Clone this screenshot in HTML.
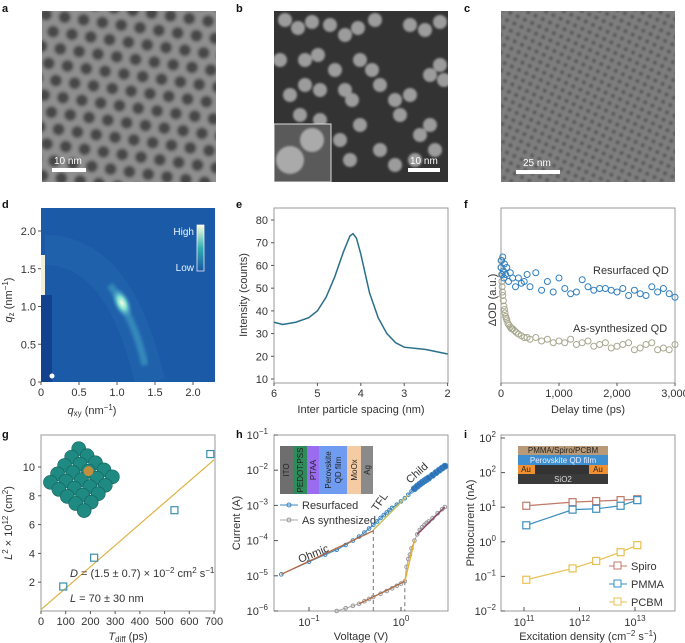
<!DOCTYPE html>
<html><head><meta charset="utf-8"><style>
body{margin:0;background:#fff}
svg{display:block;font-family:"Liberation Sans",sans-serif}
.t{font-size:11px;fill:#333}
.pl{font-size:11px;font-weight:bold;fill:#111}
</style></head><body>
<svg id="fig" width="685" height="643" viewBox="0 0 685 643" xmlns="http://www.w3.org/2000/svg">
<defs>
<filter id="blur1"><feGaussianBlur stdDeviation="1.6"/></filter>
<filter id="blur2"><feGaussianBlur stdDeviation="1"/></filter>
<clipPath id="ca"><rect x="42" y="11" width="174" height="171"/></clipPath>
<clipPath id="cb"><rect x="274" y="11" width="174" height="171"/></clipPath>
<clipPath id="cc"><rect x="501" y="11" width="174" height="171"/></clipPath>
<clipPath id="cd"><rect x="41" y="208" width="174" height="174"/></clipPath>
<pattern id="pa" width="19" height="32" patternUnits="userSpaceOnUse" patternTransform="rotate(8)">
<rect width="19" height="32" fill="#8f8f8f"/><circle cx="9.5" cy="8" r="6" fill="#474747"/><circle cx="0" cy="24" r="6" fill="#474747"/><circle cx="19" cy="24" r="6" fill="#474747"/></pattern>
<pattern id="pc" width="8" height="8" patternUnits="userSpaceOnUse" patternTransform="rotate(25)">
<rect width="8" height="8" fill="#7e7e7e"/><circle cx="4" cy="4" r="2" fill="#555"/></pattern>
<radialGradient id="spot" cx="0.5" cy="0.5" r="0.5"><stop offset="0" stop-color="#fffbe0"/><stop offset="0.4" stop-color="#7fe0d0"/><stop offset="1" stop-color="#2a7cc0" stop-opacity="0"/></radialGradient>
<linearGradient id="cbar" x1="0" y1="0" x2="0" y2="1"><stop offset="0" stop-color="#fffbe0"/><stop offset="0.5" stop-color="#30b0b0"/><stop offset="1" stop-color="#1a55a5"/></linearGradient>
</defs>

<!-- Top TEM panels -->
<text class="pl" x="2" y="12">a</text>
<g clip-path="url(#ca)">
<rect x="42" y="11" width="174" height="171" fill="#8f8f8f"/>
<rect x="36" y="5" width="186" height="183" fill="url(#pa)" filter="url(#blur1)"/>
</g>
<rect x="52" y="168" width="34" height="4" fill="#fff"/>
<text x="54" y="164" style="font-size:10px;fill:#fff">10 nm</text>

<text class="pl" x="236" y="12">b</text>
<g clip-path="url(#cb)">
<rect x="274" y="11" width="174" height="171" fill="#333"/>
<g fill="#9c9c9c" id="blobs" filter="url(#blur2)"></g>
<rect x="274" y="124" width="57" height="58" fill="#5a5a5a" stroke="#ddd" stroke-width="1"/>
<circle cx="290" cy="160" r="14" fill="#aaa" filter="url(#blur2)"/><circle cx="312" cy="140" r="12" fill="#aaa" filter="url(#blur2)"/>
</g>
<rect x="408" y="168" width="32" height="4" fill="#fff"/>
<text x="410" y="164" style="font-size:10px;fill:#fff">10 nm</text>

<text class="pl" x="464" y="12">c</text>
<g clip-path="url(#cc)">
<rect x="501" y="11" width="174" height="171" fill="#6e6e6e"/>
<rect x="495" y="5" width="186" height="183" fill="url(#pc)" filter="url(#blur2)"/>
</g>
<rect x="516" y="170" width="44" height="4" fill="#fff"/>
<text x="523" y="166" style="font-size:10px;fill:#fff">25 nm</text>

<!-- d -->
<text class="pl" x="2" y="208">d</text>
<g clip-path="url(#cd)">
<rect x="41" y="208" width="174" height="174" fill="#1b5aa6"/>
<path d="M45 250 Q120 250 150 382" stroke="#2a70b8" stroke-width="30" fill="none" opacity="0.35"/>
<path d="M110 285 Q135 320 145 365" stroke="#48b0c8" stroke-width="7" fill="none" opacity="0.5" filter="url(#blur1)"/>
<ellipse cx="122" cy="303" rx="9" ry="17" transform="rotate(-25 122 303)" fill="url(#spot)"/>
<rect x="41" y="295" width="11" height="87" fill="#12418e"/>
<rect x="41" y="255" width="4" height="40" fill="#f4f0d8"/>
<circle cx="52" cy="376" r="2.5" fill="#fff"/>
<rect x="197" y="225" width="7" height="46" fill="url(#cbar)" stroke="#fff" stroke-width="0.7"/>
<text x="194" y="235" text-anchor="end" style="font-size:10px;fill:#e8f4ff">High</text>
<text x="194" y="271" text-anchor="end" style="font-size:10px;fill:#e8f4ff">Low</text>
</g>
<g id="dax"></g>
<text x="92" y="414" text-anchor="middle" class="t"><tspan font-style="italic">q</tspan><tspan font-size="8" dy="2">xy</tspan><tspan dy="-2"> (nm</tspan><tspan font-size="8" dy="-4">−1</tspan><tspan dy="4">)</tspan></text>
<text transform="translate(12 300) rotate(-90)" text-anchor="middle" class="t"><tspan font-style="italic">q</tspan><tspan font-size="8" dy="2">z</tspan><tspan dy="-2"> (nm</tspan><tspan font-size="8" dy="-4">−1</tspan><tspan dy="4">)</tspan></text>

<!-- e -->
<text class="pl" x="236" y="208">e</text>
<rect x="274" y="208" width="174" height="175" fill="none" stroke="#999"/>
<g id="eax"></g>
<text x="361" y="413" text-anchor="middle" class="t">Inter particle spacing (nm)</text>
<text transform="translate(247 295) rotate(-90)" text-anchor="middle" class="t">Intensity (counts)</text>

<!-- f -->
<text class="pl" x="464" y="208">f</text>
<rect x="501" y="208" width="174" height="175" fill="none" stroke="#999"/>
<g id="fax"></g>
<text x="588" y="413" text-anchor="middle" class="t">Delay time (ps)</text>
<text transform="translate(496 300) rotate(-90)" text-anchor="middle" class="t">ΔOD (a.u.)</text>
<text x="593" y="274" class="t">Resurfaced QD</text>
<text x="573" y="332" class="t">As-synthesized QD</text>

<!-- g -->
<text class="pl" x="2" y="438">g</text>
<rect x="41" y="435" width="174" height="176" fill="none" stroke="#999"/>
<g id="lattice" transform="rotate(40 85 480)"></g>
<g id="gax"></g>
<text x="70" y="577" class="t"><tspan font-style="italic">D</tspan> = (1.5 ± 0.7) × 10<tspan font-size="8" dy="-4">−2</tspan><tspan dy="4"> cm</tspan><tspan font-size="8" dy="-4">2</tspan><tspan dy="4"> s</tspan><tspan font-size="8" dy="-4">−1</tspan></text>
<text x="70" y="602" class="t"><tspan font-style="italic">L</tspan> = 70 ± 30 nm</text>
<text x="128" y="640" text-anchor="middle" class="t"><tspan font-style="italic">T</tspan><tspan font-size="8" dy="2">diff</tspan><tspan dy="-2"> (ps)</tspan></text>
<text transform="translate(12 523) rotate(-90)" text-anchor="middle" class="t"><tspan font-style="italic">L</tspan><tspan font-size="8" dy="-4">2</tspan><tspan dy="4"> × 10</tspan><tspan font-size="8" dy="-4">12</tspan><tspan dy="4"> (cm</tspan><tspan font-size="8" dy="-4">2</tspan><tspan dy="4">)</tspan></text>

<!-- h -->
<text class="pl" x="236" y="438">h</text>
<rect x="274" y="435" width="174" height="176" fill="none" stroke="#999"/>
<g style="font-size:8px;fill:#222">
<rect x="280" y="446" width="13" height="48" fill="#6e6e6e"/>
<rect x="293" y="446" width="14" height="48" fill="#2e8b5a"/>
<rect x="307" y="446" width="12" height="48" fill="#9a6cf0"/>
<rect x="319" y="446" width="28" height="48" fill="#6f9cf0"/>
<rect x="347" y="446" width="14" height="48" fill="#f5cba3"/>
<rect x="361" y="446" width="12" height="48" fill="#8a8a8a"/>
<text transform="translate(289 470) rotate(-90)" text-anchor="middle">ITO</text>
<text transform="translate(303 470) rotate(-90)" text-anchor="middle">PEDOT:PSS</text>
<text transform="translate(316 470) rotate(-90)" text-anchor="middle">PTAA</text>
<text transform="translate(331 470) rotate(-90)" text-anchor="middle">Perovskite</text>
<text transform="translate(341 470) rotate(-90)" text-anchor="middle">QD film</text>
<text transform="translate(357 470) rotate(-90)" text-anchor="middle">MoOx</text>
<text transform="translate(370 470) rotate(-90)" text-anchor="middle">Ag</text>
</g>
<g>
<line x1="280" y1="505" x2="298" y2="505" stroke="#3a85c0"/><circle cx="289" cy="505" r="2" fill="none" stroke="#3a85c0"/>
<text x="302" y="509" class="t">Resurfaced</text>
<line x1="280" y1="520" x2="298" y2="520" stroke="#aaa"/><circle cx="289" cy="520" r="2" fill="none" stroke="#999"/>
<text x="302" y="524" class="t">As synthesized</text>
</g>
<g id="hax"></g>
<text transform="translate(300 563) rotate(-22)" class="t">Ohmic</text>
<text transform="translate(377 512) rotate(-55)" class="t">TFL</text>
<text transform="translate(410 484) rotate(-42)" class="t">Child</text>
<text x="361" y="640" text-anchor="middle" class="t">Voltage (V)</text>
<text transform="translate(240 523) rotate(-90)" text-anchor="middle" class="t">Current (A)</text>

<!-- i -->
<text class="pl" x="464" y="438">i</text>
<rect x="501" y="435" width="174" height="176" fill="none" stroke="#999"/>
<g style="font-size:8px">
<rect x="518" y="446" width="90" height="9" fill="#b89a78"/>
<rect x="518" y="455" width="90" height="10" fill="#3d8fd0"/>
<rect x="518" y="465" width="90" height="9" fill="#333"/>
<rect x="518" y="465" width="17" height="9" fill="#f09030"/>
<rect x="589" y="465" width="19" height="9" fill="#f09030"/>
<rect x="518" y="474" width="90" height="10" fill="#3a3a3a"/>
<text x="563" y="453" text-anchor="middle" fill="#222">PMMA/Spiro/PCBM</text>
<text x="563" y="463" text-anchor="middle" fill="#eef">Perovskite QD film</text>
<text x="526" y="472" text-anchor="middle" fill="#222">Au</text>
<text x="598" y="472" text-anchor="middle" fill="#222">Au</text>
<text x="563" y="482" text-anchor="middle" fill="#ddd">SiO2</text>
</g>
<g id="iax"></g>
<text x="588" y="640" text-anchor="middle" class="t">Excitation density (cm<tspan font-size="8" dy="-4">−2</tspan><tspan dy="4"> s</tspan><tspan font-size="8" dy="-4">−1</tspan><tspan dy="4">)</tspan></text>
<text transform="translate(474 523) rotate(-90)" text-anchor="middle" class="t">Photocurrent (nA)</text>
<g>
<line x1="609" y1="566" x2="627" y2="566" stroke="#c07868"/><rect x="614" y="562" width="7" height="7" fill="#fff" stroke="#c07868"/><text x="631" y="570" class="t">Spiro</text>
<line x1="609" y1="584" x2="627" y2="584" stroke="#3a8fc0"/><rect x="614" y="580" width="7" height="7" fill="#fff" stroke="#3a8fc0"/><text x="631" y="588" class="t">PMMA</text>
<line x1="609" y1="602" x2="627" y2="602" stroke="#e8c050"/><rect x="614" y="598" width="7" height="7" fill="#fff" stroke="#e8c050"/><text x="631" y="606" class="t">PCBM</text>
</g>
</svg>
<script>
// ---- data ----
const eSpacing=[6,5.8,5.5,5.2,5,4.8,4.6,4.4,4.25,4.18,4.1,4.0,3.8,3.6,3.4,3.2,3,2.5,2];
const eIntensity=[35,34,35,37,40,46,55,66,73,74,72,65,48,37,30,26,24,23,21];
const fResT=[0,10,20,30,40,50,60,80,100,130,160,200,250,300,350,400,450,500,600,700,800,900,1000,1100,1200,1300,1400,1500,1600,1700,1800,1900,2000,2100,2200,2300,2400,2500,2600,2700,2800,2900,3000];
const fResV=[0.66,0.70,0.62,0.72,0.64,0.60,0.68,0.62,0.66,0.58,0.63,0.60,0.55,0.60,0.57,0.58,0.62,0.55,0.63,0.53,0.58,0.52,0.60,0.54,0.51,0.52,0.59,0.55,0.53,0.54,0.54,0.53,0.52,0.54,0.50,0.53,0.51,0.50,0.55,0.52,0.54,0.51,0.49];
const fAsT=[0,5,10,15,20,25,30,40,50,60,70,80,90,100,120,140,160,180,200,230,260,300,350,400,450,500,600,700,800,900,1000,1100,1200,1300,1400,1500,1600,1700,1800,1900,2000,2100,2200,2300,2400,2500,2600,2700,2800,2900,3000];
const fAsV=[0.70,0.66,0.62,0.58,0.55,0.52,0.50,0.47,0.44,0.42,0.40,0.38,0.37,0.36,0.34,0.33,0.32,0.31,0.31,0.30,0.29,0.28,0.27,0.26,0.26,0.25,0.26,0.24,0.25,0.23,0.24,0.23,0.25,0.22,0.23,0.24,0.21,0.22,0.23,0.20,0.21,0.22,0.23,0.19,0.20,0.22,0.23,0.19,0.20,0.19,0.22];
const gT=[90,215,540,685];
const gL2=[1.7,3.7,7.0,10.9];
const gFitT=[0,700];
const gFitL2=[0.1,10.5];
const hResV=[0.05,0.1,0.15,0.2,0.25,0.3,0.35,0.4,0.45,0.5,0.55,0.6,0.65,0.7,0.75,0.8,0.9,1.0,1.1,1.2,1.3,1.4,1.5,1.6,1.7,1.8,1.9,2.0,2.2,2.4,2.6,2.8,3.0];
const hResI=[1.1e-5,2.5e-5,4e-5,5.5e-5,7.5e-5,1e-4,1.3e-4,1.7e-4,2.2e-4,2.8e-4,3.5e-4,4.4e-4,5.3e-4,6.3e-4,7.4e-4,8.5e-4,1.05e-3,1.3e-3,1.6e-3,2.0e-3,2.5e-3,3.0e-3,3.5e-3,4.0e-3,4.5e-3,5.0e-3,5.5e-3,6.0e-3,7.2e-3,8.5e-3,1.0e-2,1.15e-2,1.3e-2];
const hAsV=[0.2,0.25,0.3,0.35,0.4,0.45,0.5,0.6,0.7,0.8,0.9,1.0,1.1,1.15,1.2,1.25,1.3,1.4,1.5,1.6,1.7,1.8,1.9,2.0,2.2,2.5,2.8,3.0];
const hAsI=[1e-6,1.2e-6,1.4e-6,1.6e-6,1.9e-6,2.2e-6,2.5e-6,3.1e-6,3.7e-6,4.4e-6,5.2e-6,6e-6,7e-6,1.8e-5,3e-5,4e-5,6e-5,1e-4,1.5e-4,2e-4,2.4e-4,2.8e-4,3.2e-4,3.5e-4,4.3e-4,6e-4,7.8e-4,9e-4];
const iX=[1.1e11,7.5e11,2e12,5.5e12,1.1e13];
const iSpiro=[11,14,15,16,17];
const iPMMA=[3,8.5,9,11,16];
const iPCBM=[0.08,0.17,0.28,0.5,0.8];
const dTicks=[0,0.5,1.0,1.5,2.0];
const eXTicks=[6,5,4,3,2];
const eYTicks=[10,20,30,40,50,60,70,80];
const fXTicks=[0,1000,2000,3000];
const fXLabels=['0','1,000','2,000','3,000'];
const gXTicks=[0,100,200,300,400,500,600,700];
const gYTicks=[2,4,6,8,10];
const hYExp=[-1,-2,-3,-4,-5,-6];
const hXExp=[-1,0];
const iYExp=[3,2,1,0,-1,-2];
const iYLabels=['2','2','1','0','−1','−2'];
const iXExp=[11,12,13];

const NS='http://www.w3.org/2000/svg';
function mk(parent,tag,attrs,name,txt){const e=document.createElementNS(NS,tag);for(const k in attrs)e.setAttribute(k,attrs[k]);


if(txt!==undefined)e.textContent=txt;parent.appendChild(e);return e;}
function g(id){return document.getElementById(id);}
function pow(parent,x,y,exp,anchor){const t=mk(parent,'text',{x:x,y:y,'text-anchor':anchor||'end',class:'t'},'tick-label');t.textContent='10';const s=document.createElementNS(NS,'tspan');s.setAttribute('font-size','8');s.setAttribute('dy','-5');s.textContent=exp;t.appendChild(s);}

// blobs for b (decorative texture)
const blobs=[[285,20],[298,28],[312,22],[330,25],[345,35],[358,28],[375,20],[410,25],[425,30],[440,22],[440,65],[430,75],[444,80],[290,95],[305,85],[320,90],[335,70],[345,90],[352,100],[380,85],[395,100],[410,95],[400,115],[420,135],[430,125],[360,125],[340,140],[350,160],[380,150],[395,165],[415,160],[435,150],[300,115],[320,120],[305,60],[318,55],[280,60],[360,60],[372,70]];
blobs.forEach(p=>mk(g('blobs'),'circle',{cx:p[0],cy:p[1],r:7},'nanocrystal-blob'));

// lattice inset g
for(let r=0;r<5;r++)for(let c=0;c<5;c++)mk(g('lattice'),'circle',{cx:60+c*11,cy:460+r*11,r:7,fill:'#1f8a82',stroke:'#0f5a55','stroke-width':0.5},'lattice-atom');
mk(g('lattice'),'circle',{cx:82,cy:471,r:5,fill:'#c09040'},'exciton-site');

// d axes
const dx=q=>41+76*q, dy=q=>382-75.5*q;
dTicks.forEach(v=>{mk(g('dax'),'line',{x1:dx(v),x2:dx(v),y1:382,y2:385,stroke:'#555'},'d-x-tick');mk(g('dax'),'text',{x:dx(v),y:396,'text-anchor':'middle',class:'t'},'d-x-tick-label',v===0?'0':v.toFixed(1));
mk(g('dax'),'line',{x1:38,x2:41,y1:dy(v),y2:dy(v),stroke:'#555'},'d-y-tick');mk(g('dax'),'text',{x:36,y:dy(v)+4,'text-anchor':'end',class:'t'},'d-y-tick-label',v===0?'0':v.toFixed(1));});

// e
const ex=s=>274+(6-s)*43.4, ey=v=>379-(v-10)*2.271;
eXTicks.forEach(v=>{mk(g('eax'),'line',{x1:ex(v),x2:ex(v),y1:383,y2:386,stroke:'#555'},'e-x-tick');mk(g('eax'),'text',{x:ex(v),y:397,'text-anchor':'middle',class:'t'},'e-x-tick-label',String(v));});
eYTicks.forEach(v=>{mk(g('eax'),'line',{x1:271,x2:274,y1:ey(v),y2:ey(v),stroke:'#555'},'e-y-tick');mk(g('eax'),'text',{x:268,y:ey(v)+4,'text-anchor':'end',class:'t'},'e-y-tick-label',String(v));});
mk(g('eax'),'polyline',{points:eSpacing.map((s,i)=>ex(s)+','+ey(eIntensity[i])).join(' '),fill:'none',stroke:'#2a6f8a','stroke-width':1.5},'e-intensity-curve');

// f
const fx=t=>501+t*0.058, fy=v=>383-v*175;
fXTicks.forEach((v,i)=>{mk(g('fax'),'line',{x1:fx(v),x2:fx(v),y1:383,y2:386,stroke:'#555'},'f-x-tick');mk(g('fax'),'text',{x:fx(v),y:397,'text-anchor':'middle',class:'t'},'f-x-tick-label',fXLabels[i]);});
fAsT.forEach((t,i)=>mk(g('fax'),'circle',{cx:fx(t),cy:fy(fAsV[i]),r:3,fill:'none',stroke:'#a8a890','stroke-width':1},'f-as-synthesized-point'));
fResT.forEach((t,i)=>mk(g('fax'),'circle',{cx:fx(t),cy:fy(fResV[i]),r:3,fill:'none',stroke:'#2f7fc0','stroke-width':1},'f-resurfaced-point'));

// g
const gx=t=>41+t*173/700, gy=v=>611-v*14.4;
gXTicks.forEach(v=>{mk(g('gax'),'line',{x1:gx(v),x2:gx(v),y1:611,y2:614,stroke:'#555'},'g-x-tick');mk(g('gax'),'text',{x:gx(v),y:625,'text-anchor':'middle',class:'t'},'g-x-tick-label',String(v));});
gYTicks.forEach(v=>{mk(g('gax'),'line',{x1:38,x2:41,y1:gy(v),y2:gy(v),stroke:'#555'},'g-y-tick');mk(g('gax'),'text',{x:35,y:gy(v)+4,'text-anchor':'end',class:'t'},'g-y-tick-label',String(v));});
mk(g('gax'),'line',{x1:gx(gFitT[0]),y1:gy(gFitL2[0]),x2:gx(gFitT[1]),y2:gy(gFitL2[1]),stroke:'#e0b040','stroke-width':1.2},'g-fit-line');
gT.forEach((t,i)=>mk(g('gax'),'rect',{x:gx(t)-3.5,y:gy(gL2[i])-3.5,width:7,height:7,fill:'none',stroke:'#3a8fb0','stroke-width':1.2},'g-data-point'));

// h
const hx=v=>401+92*Math.log10(v), hy=v=>435+(-1-Math.log10(v))*35.2;
hYExp.forEach(e=>{const y=hy(Math.pow(10,e));mk(g('hax'),'line',{x1:274,x2:278,y1:y,y2:y,stroke:'#555'},'h-y-tick');pow(g('hax'),268,y+4,e===-1?'−1':'−'+(-e));});
hXExp.forEach(e=>{const x=hx(Math.pow(10,e));mk(g('hax'),'line',{x1:x,x2:x,y1:611,y2:607,stroke:'#555'},'h-x-tick');pow(g('hax'),x,626,e===0?'0':'−1','middle');});
const line=(xs,ys,fx,fy,col,w,name,par)=>mk(par,'polyline',{points:xs.map((x,i)=>fx(x)+','+fy(ys[i])).join(' '),fill:'none',stroke:col,'stroke-width':w},name);
mk(g('hax'),'line',{x1:hx(0.5),x2:hx(0.5),y1:hy(2e-4),y2:611,stroke:'#777','stroke-dasharray':'4 3'},'h-dashed-tfl-onset');
mk(g('hax'),'line',{x1:hx(1.1),x2:hx(1.1),y1:hy(7e-6),y2:611,stroke:'#777','stroke-dasharray':'4 3'},'h-dashed-as-synth-onset');
line(hResV,hResI,hx,hy,'#3a85c0',1,'h-resurfaced-line',g('hax'));
hResV.forEach((v,i)=>mk(g('hax'),'circle',{cx:hx(v),cy:hy(hResI[i]),r:v>1.3?3:1.8,fill:v>1.3?'#2f6fb8':'none',stroke:'#3a85c0'},'h-resurfaced-point'));
line(hAsV,hAsI,hx,hy,'#aaa',1,'h-as-synth-line',g('hax'));
hAsV.forEach((v,i)=>mk(g('hax'),'circle',{cx:hx(v),cy:hy(hAsI[i]),r:1.8,fill:'none',stroke:'#999'},'h-as-synth-point'));
line([0.05,0.5],[1.1e-5,1.9e-4],hx,hy,'#b5653a',1.2,'h-ohmic-fit',g('hax'));
line([0.5,1.2],[2e-4,2e-3],hx,hy,'#c8c060',1.5,'h-tfl-fit',g('hax'));
line([0.35,1.1],[1.6e-6,7e-6],hx,hy,'#b5653a',1.2,'h-as-ohmic-fit',g('hax'));
line([1.1,1.4],[7e-6,1e-4],hx,hy,'#e8b030',1.5,'h-as-tfl-fit',g('hax'));
line([1.5,3.0],[1.5e-4,9e-4],hx,hy,'#8a4a6a',1.5,'h-as-child-fit',g('hax'));

// i
const ix=v=>524+55.5*(Math.log10(v)-11), iy=v=>611-34.6*(Math.log10(v)+2);
iYExp.forEach((e,k)=>{const y=iy(Math.pow(10,e));mk(g('iax'),'line',{x1:501,x2:505,y1:y,y2:y,stroke:'#555'},'i-y-tick');pow(g('iax'),496,y+4,iYLabels[k]);});
iXExp.forEach(e=>{const x=ix(Math.pow(10,e));mk(g('iax'),'line',{x1:x,x2:x,y1:611,y2:607,stroke:'#555'},'i-x-tick');pow(g('iax'),x,626,String(e),'middle');});
[[iSpiro,'#c07868','spiro'],[iPMMA,'#3a8fc0','pmma'],[iPCBM,'#e8c050','pcbm']].forEach(s=>{
line(iX,s[0],ix,iy,s[1],1.2,'i-'+s[2]+'-line',g('iax'));
iX.forEach((x,i)=>mk(g('iax'),'rect',{x:ix(x)-3.5,y:iy(s[0][i])-3.5,width:7,height:7,fill:'#fff',stroke:s[1],'stroke-width':1.2},'i-'+s[2]+'-point'));});
</script>
</body></html>
